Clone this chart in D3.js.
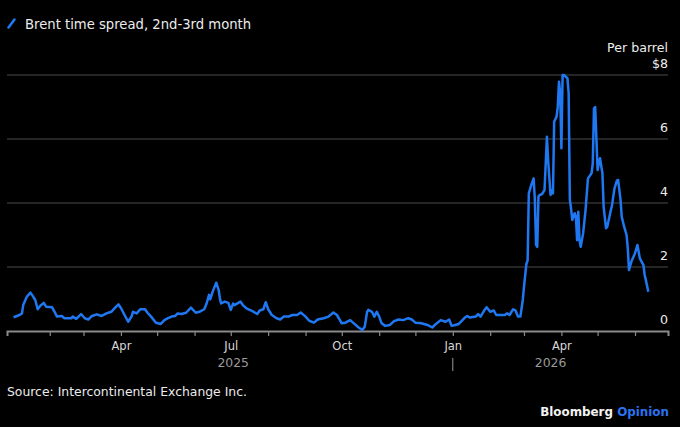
<!DOCTYPE html>
<html>
<head>
<meta charset="utf-8">
<script src="https://cdn.jsdelivr.net/npm/d3@7"></script>
<style>
  html, body { margin:0; padding:0; background:#000; }
  svg { display:block; font-family:"DejaVu Sans", "Liberation Sans", sans-serif; }
</style>
</head>
<body>
<div id="chart"></div>
<script>
/* Brent 2nd-3rd month time spread, $ per barrel, Jan 2025 to Jun 2026.
   Values are read off the reference picture. */
const dates2025 = [
  '01-02','01-07','01-09','01-10','01-13','01-16','01-18','01-20','01-22','01-24','01-27','01-29',
  '02-03','02-05','02-07','02-11','02-13','02-19','02-20','02-23','02-27',
  '03-02','03-05','03-08','03-12','03-16','03-20','03-24','03-28','03-30',
  '04-01','04-04','04-07','04-10','04-11','04-14','04-17','04-21','04-23','04-26','04-30',
  '05-04','05-07','05-10','05-13','05-16','05-18','05-21','05-25','05-29',
  '06-02','06-05','06-09','06-11','06-13','06-14','06-16','06-19','06-21','06-22','06-23','06-26','06-29',
  '07-01','07-03','07-04','07-09','07-11','07-14','07-18','07-23','07-25','07-28','07-30',
  '08-01','08-04','08-08','08-11','08-14','08-18','08-21','08-25','08-28',
  '09-01','09-04','09-08','09-11','09-16','09-20','09-24','09-27',
  '10-01','10-04','10-08','10-11','10-15','10-18','10-20','10-22','10-23','10-26','10-28','10-30',
  '11-01','11-03','11-06','11-10','11-13','11-17','11-21','11-25','11-28',
  '12-01','12-06','12-11','12-15','12-18','12-22','12-26','12-29','12-31'
];
const values2025 = [
  0.43,0.50,0.55,0.81,1.07,1.20,1.09,0.97,0.68,0.78,0.88,0.76,
  0.74,0.60,0.45,0.47,0.40,0.40,0.45,0.38,0.53,
  0.40,0.36,0.47,0.52,0.47,0.55,0.60,0.76,0.83,
  0.72,0.50,0.29,0.47,0.60,0.55,0.68,0.68,0.57,0.45,0.26,
  0.22,0.34,0.40,0.45,0.47,0.55,0.53,0.57,0.73,
  0.57,0.60,0.68,0.86,1.13,0.99,1.23,1.51,1.28,1.02,0.86,0.92,0.88,
  0.66,0.86,0.81,0.92,0.81,0.71,0.64,0.53,0.64,0.68,0.90,
  0.68,0.50,0.40,0.36,0.45,0.45,0.50,0.50,0.58,
  0.45,0.32,0.26,0.36,0.40,0.45,0.58,0.50,
  0.24,0.26,0.34,0.24,0.11,0.03,0.13,0.60,0.66,0.60,0.45,0.60,
  0.45,0.24,0.16,0.19,0.30,0.36,0.34,0.40,0.36,
  0.26,0.24,0.19,0.11,0.22,0.34,0.29,0.36,0.16
];
const dates2026 = [
  '01-03','01-06','01-09','01-11','01-13','01-15','01-20','01-22','01-24','01-27','01-29',
  '02-01','02-04','02-06','02-10','02-13','02-15','02-17','02-20','02-22','02-24','02-26','02-28',
  '03-01','03-03','03-04','03-05','03-07','03-09','03-10','03-11','03-12','03-13','03-14','03-16',
  '03-18','03-20','03-21','03-23','03-24','03-25','03-26','03-28','03-29','03-30','03-31',
  '04-01','04-02','04-03','04-06','04-07','04-08','04-09','04-10','04-12','04-13','04-14','04-15',
  '04-16','04-17','04-19','04-21','04-23','04-26','04-27','04-28','04-29',
  '05-01','05-02','05-03','05-05','05-06','05-08','05-09','05-12','05-13','05-15','05-17','05-18',
  '05-20','05-21','05-23','05-25','05-26','05-27','05-29',
  '06-01','06-03','06-05','06-08','06-09','06-10','06-12'
];
const values2026 = [
  0.19,0.22,0.34,0.42,0.47,0.42,0.45,0.53,0.45,0.64,0.74,
  0.60,0.64,0.50,0.50,0.50,0.55,0.50,0.68,0.64,0.45,0.45,0.97,
  1.39,2.10,2.20,4.30,4.56,4.77,4.10,2.69,2.63,4.20,4.25,4.28,
  4.40,6.07,5.34,4.25,4.40,4.30,6.54,6.70,7.01,7.79,7.43,
  5.71,8.00,8.00,7.90,7.43,4.10,3.83,3.47,3.68,3.58,2.84,3.73,
  2.84,2.63,3.05,3.78,4.77,4.93,5.24,6.96,7.00,
  5.03,5.24,5.40,4.93,3.88,3.21,3.26,3.78,3.94,4.46,4.70,4.72,
  4.10,3.57,3.26,3.00,2.58,1.91,2.17,
  2.43,2.69,2.27,2.06,1.75,1.59,1.23
];
const yTicks = [0, 2, 4, 6, 8];
const quarterLabels = { 0:'Jan', 3:'Apr', 6:'Jul', 9:'Oct' };
const yearLabels = [2025, 2026];

(function(){
  const parse = d3.timeParse('%Y-%m-%d');
  const data = dates2025.map((d,i) => ({ date: parse('2025-' + d), value: values2025[i] }))
    .concat(dates2026.map((d,i) => ({ date: parse('2026-' + d), value: values2026[i] })));

  const W = 680, H = 427;
  const padL = 7, padR = 668, plotTop = 75, plotBottom = 331;
  const blue = '#1f78f2';

  const svg = d3.select('#chart').append('svg').attr('width', W).attr('height', H);
  svg.append('rect').attr('width', W).attr('height', H).attr('fill', '#000');

  const x = d3.scaleTime()
    .domain([new Date(2024, 11, 27, 14), new Date(2026, 5, 28, 8)])
    .range([padL, padR]);
  const y = d3.scaleLinear().domain([0, 8]).range([plotBottom, plotTop]);

  // legend
  svg.append('line').attr('x1', 8.5).attr('y1', 27.5).attr('x2', 14.5).attr('y2', 19.5)
    .attr('stroke', blue).attr('stroke-width', 2.6).attr('stroke-linecap', 'round');
  svg.append('text').attr('x', 25).attr('y', 29)
    .style('font-size', '13.2px').style('fill', '#ececec')
    .text('Brent time spread, 2nd-3rd month');

  // gridlines + y labels
  svg.append('g').selectAll('line').data(yTicks.filter(d => d > 0)).join('line')
    .attr('x1', padL).attr('x2', padR)
    .attr('y1', d => y(d)).attr('y2', d => y(d))
    .attr('stroke', '#4b4b4b').attr('stroke-width', 1.2);

  svg.append('g').selectAll('text').data(yTicks).join('text')
    .attr('x', padR).attr('y', d => y(d) - 7)
    .attr('text-anchor', 'end')
    .style('font-size', '12.6px').style('fill', '#ececec')
    .text(d => d === 8 ? '$8' : d);
  svg.append('text').attr('x', padR).attr('y', 52).attr('text-anchor', 'end')
    .style('font-size', '12.6px').style('fill', '#ececec').text('Per barrel');

  // x axis: monthly ticks, labels each quarter
  const xAxis = d3.axisBottom(x)
    .tickValues(d3.timeMonth.range(new Date(2025, 1, 1), new Date(2026, 6, 1)))
    .tickSize(5).tickPadding(6)
    .tickFormat(d => quarterLabels[d.getMonth()] || '');
  const gx = svg.append('g').attr('transform', 'translate(0,' + plotBottom + ')').call(xAxis);
  gx.select('.domain').attr('stroke', '#8a8a8a').attr('stroke-width', 2);
  gx.selectAll('.tick line').attr('stroke', '#8a8a8a').attr('stroke-width', 1.2);
  gx.selectAll('.tick text').style('font-size', '11.5px').style('fill', '#d8d8d8')
    .style('font-family', '"DejaVu Sans", sans-serif');

  // year labels, centered on each year's span of data
  const extent = d3.extent(data, d => d.date);
  yearLabels.forEach(yr => {
    const a = d3.max([extent[0], new Date(yr, 0, 1)]);
    const b = d3.min([extent[1], new Date(yr + 1, 0, 1)]);
    svg.append('text').attr('x', (x(a) + x(b)) / 2).attr('y', 367)
      .attr('text-anchor', 'middle')
      .style('font-size', '12.4px').style('fill', '#9a9a9a').text(yr);
  });
  svg.append('line')
    .attr('x1', x(new Date(2026, 0, 1))).attr('x2', x(new Date(2026, 0, 1)))
    .attr('y1', 358).attr('y2', 371)
    .attr('stroke', '#9a9a9a').attr('stroke-width', 1);

  // series
  svg.append('path').datum(data)
    .attr('fill', 'none').attr('stroke', blue).attr('stroke-width', 2.5)
    .attr('stroke-linejoin', 'round')
    .attr('d', d3.line().x(d => x(d.date)).y(d => y(d.value)));

  // footer
  svg.append('text').attr('x', 7).attr('y', 396)
    .style('font-size', '12.4px').style('fill', '#ececec')
    .text('Source: Intercontinental Exchange Inc.');
  const brand = svg.append('text').attr('x', 669).attr('y', 416).attr('text-anchor', 'end')
    .style('font-size', '11.9px').style('font-weight', 'bold');
  brand.append('tspan').style('fill', '#f2f2f2').text('Bloomberg ');
  brand.append('tspan').style('fill', '#2a72ee').text('Opinion');
})();
</script>
</body>
</html>
